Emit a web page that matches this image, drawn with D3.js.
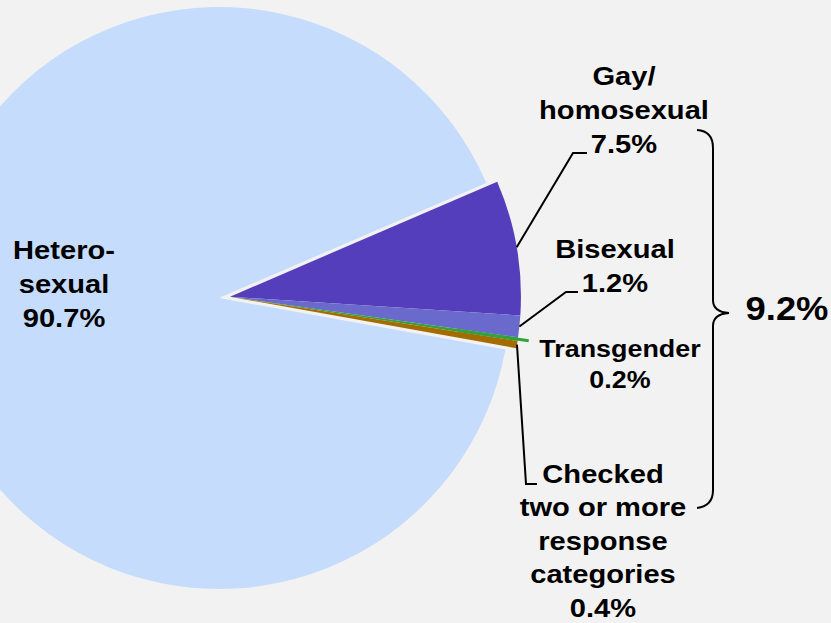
<!DOCTYPE html>
<html>
<head>
<meta charset="utf-8">
<script src="https://cdn.jsdelivr.net/npm/d3@7"></script>
<style>
  html, body { margin: 0; padding: 0; background: #f2f2f2; }
  svg { display: block; }
</style>
</head>
<body>
<div id="chart"></div>
<script>
// Data
var categories = ["Gay/homosexual", "Bisexual", "Transgender", "Checked two or more response categories", "Heterosexual"];
var values = [7.5, 1.2, 0.2, 0.4, 90.7];
var labelLines = [
    ["Gay/", "homosexual", "7.5%"],
    ["Bisexual", "1.2%"],
    ["Transgender", "0.2%"],
    ["Checked", "two or more", "response", "categories", "0.4%"],
    ["Hetero-", "sexual", "90.7%"]
];
var totalLabel = "9.2%";
var colors = ["#553ebb", "#6a6acd", "#33a13c", "#a26c00", "#c6dcfc"];

var width = 831, height = 623;

var svg = d3.select("#chart")
    .append("svg")
    .attr("width", width)
    .attr("height", height);

svg.append("rect")
    .attr("width", width)
    .attr("height", height)
    .attr("fill", "#f2f2f2");

// Pie layout, starting angle chosen so the small slices sit on the right
var radius = 291;
var center = [219, 298];
var explode = 11; // small slices are pulled out

var pie = d3.pie()
    .sort(null)
    .value(d => d)
    .startAngle(66.7 * Math.PI / 180)
    .endAngle(66.7 * Math.PI / 180 + 2 * Math.PI);

var arcs = pie(values);

var arc = d3.arc()
    .innerRadius(0)
    .outerRadius(radius);

// direction of the pulled-out group (mid angle of the first four slices)
var groupMid = (arcs[0].startAngle + arcs[3].endAngle) / 2;
var smallCenter = [
    center[0] + explode * Math.sin(groupMid),
    center[1] - explode * Math.cos(groupMid)
];

function pointAt(angle, r) {
    return [smallCenter[0] + r * Math.sin(angle), smallCenter[1] - r * Math.cos(angle)];
}

// Hetero slice
svg.append("path")
    .attr("transform", "translate(" + center[0] + "," + center[1] + ")")
    .attr("d", arc(arcs[4]))
    .attr("fill", colors[4]);

// Small slices
svg.append("g")
    .attr("transform", "translate(" + smallCenter[0] + "," + smallCenter[1] + ")")
    .selectAll("path")
    .data(arcs.slice(0, 4))
    .enter()
    .append("path")
    .attr("d", arc)
    .attr("fill", (d, i) => colors[i]);

// green tick sticking out of the thin transgender slice
var tMid = (arcs[2].startAngle + arcs[2].endAngle) / 2;
var g0 = pointAt(tMid, radius - 60), g1 = pointAt(tMid, radius + 11);
svg.append("line")
    .attr("x1", g0[0]).attr("y1", g0[1])
    .attr("x2", g1[0]).attr("y2", g1[1])
    .attr("stroke", colors[2])
    .attr("stroke-width", 3);

// Leader lines: from mid angle on the arc to an elbow and a short horizontal tail
var leaders = [
    { i: 0, elbow: [573, 153], end: [587, 153] },
    { i: 1, elbow: [566, 292], end: [578, 292] },
    { i: 3, elbow: [526, 484], end: [537, 484] }
];
leaders.forEach(function (l) {
    var a = (arcs[l.i].startAngle + arcs[l.i].endAngle) / 2;
    var p = pointAt(a, radius);
    svg.append("polyline")
        .attr("points", [p, l.elbow, l.end].map(q => q.join(",")).join(" "))
        .attr("fill", "none")
        .attr("stroke", "#000")
        .attr("stroke-width", 2);
});

// Labels
var labelPos = [
    { x: 624, y: 85, size: 26, step: 34 },
    { x: 615, y: 258, size: 26, step: 34 },
    { x: 620, y: 357, size: 24, step: 31 },
    { x: 603, y: 483, size: 26, step: 33.5 },
    { x: 64, y: 259, size: 26, step: 34 }
];

labelLines.forEach(function (lines, i) {
    var p = labelPos[i];
    var t = svg.append("text")
        .attr("transform", "translate(" + p.x + "," + p.y + ") scale(1.12,1)")
        .attr("text-anchor", "middle")
        .style("font-family", "'Liberation Sans', Arial, sans-serif")
        .style("font-weight", "bold")
        .style("font-size", p.size + "px")
        .attr("fill", "#000");
    lines.forEach(function (s, k) {
        t.append("tspan")
            .attr("x", 0)
            .attr("y", k * p.step)
            .text(s);
    });
});

// Brace around the small categories
svg.append("path")
    .attr("d", "M697,130 Q713,131 713,148 L713,300 Q713,312 729,313 Q713,314 713,326 L713,490 Q713,506 697,508")
    .attr("fill", "none")
    .attr("stroke", "#000")
    .attr("stroke-width", 2);

svg.append("text")
    .attr("transform", "translate(787,320) scale(1.12,1)")
    .attr("text-anchor", "middle")
    .style("font-family", "'Liberation Sans', Arial, sans-serif")
    .style("font-weight", "bold")
    .style("font-size", "32.5px")
    .text(totalLabel);
</script>
</body>
</html>
